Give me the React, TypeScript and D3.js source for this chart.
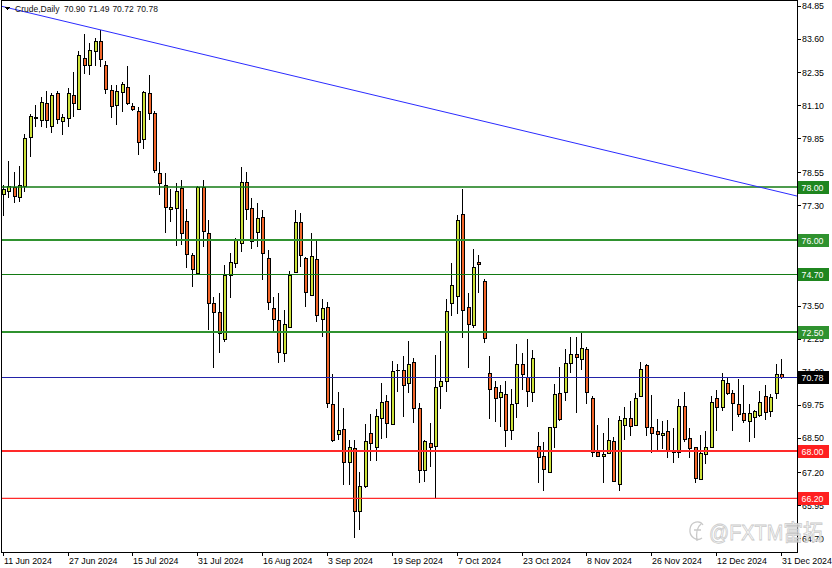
import React from 'react';
import * as d3 from 'd3';

// Crude, Daily — bars from 11 Jun 2024 to 31 Dec 2024
const opens = [
  77.73, 77.85, 78.01, 77.63, 78.04, 79.88, 80.65, 80.53, 81.16, 80.30,
  81.57, 80.49, 80.62, 81.47, 80.94, 82.87, 82.62, 83.16, 83.54, 82.60,
  81.66, 81.10, 81.58, 81.79, 81.06, 80.88, 79.80, 81.57, 80.79, 78.54,
  78.07, 77.15, 77.19, 77.97, 76.71, 75.42, 74.75, 77.98, 76.26, 73.59,
  73.27, 72.22, 74.66, 75.10, 75.86, 78.17, 77.19, 76.30, 76.85, 75.32,
  73.42, 72.96, 71.69, 72.70, 74.79, 76.68, 75.32, 73.90, 75.25, 72.98,
  73.44, 69.76, 68.63, 68.83, 67.57, 68.12, 65.71, 66.68, 68.66, 68.16,
  69.23, 69.89, 69.01, 71.05, 71.05, 70.58, 71.35, 69.61, 67.27, 68.29,
  68.19, 70.47, 70.65, 73.59, 73.88, 76.97, 73.44, 72.77, 75.15, 74.43,
  70.94, 70.41, 70.03, 70.14, 68.79, 69.80, 71.28, 70.81, 70.24, 68.19,
  67.80, 67.21, 68.89, 70.18, 70.22, 71.32, 71.67, 71.47, 71.86, 70.01,
  67.97, 67.82, 67.91, 68.37, 66.74, 68.98, 69.23, 68.98, 70.08, 71.25,
  68.89, 68.75, 68.60, 68.75, 68.01, 67.97, 69.70, 68.47, 68.13, 66.92,
  67.88, 68.13, 69.99, 69.67, 70.58, 70.20, 69.77, 69.44, 69.14, 69.27,
  69.36, 70.09, 69.51, 70.18, 70.90,
];
const highs = [
  78.07, 78.99, 78.55, 78.80, 80.00, 80.76, 81.10, 81.39, 81.64, 81.57,
  81.64, 80.76, 81.73, 82.34, 83.15, 83.79, 83.44, 83.63, 83.94, 82.78,
  81.86, 81.86, 81.98, 82.58, 81.16, 81.01, 81.63, 82.24, 80.87, 78.93,
  78.54, 77.91, 78.16, 78.26, 77.15, 75.48, 78.03, 78.26, 76.74, 73.84,
  73.97, 75.04, 75.48, 76.06, 78.74, 78.55, 77.57, 77.38, 77.12, 75.61,
  73.84, 73.97, 73.34, 74.81, 77.12, 77.00, 75.35, 76.26, 75.99, 73.74,
  73.65, 70.91, 70.24, 69.63, 68.41, 68.41, 67.21, 69.02, 69.40, 69.59,
  70.58, 70.12, 71.40, 71.28, 71.59, 72.16, 71.50, 69.82, 68.41, 69.07,
  71.63, 72.16, 73.75, 75.13, 76.93, 77.92, 73.97, 75.63, 75.42, 74.51,
  71.59, 70.65, 70.49, 70.65, 70.33, 72.05, 71.69, 72.22, 71.82, 68.72,
  68.35, 68.91, 70.53, 71.19, 71.85, 72.32, 72.32, 72.51, 71.92, 70.08,
  68.98, 68.69, 69.23, 68.51, 69.32, 69.67, 69.89, 70.18, 71.38, 71.29,
  70.12, 69.19, 69.13, 69.17, 68.85, 69.95, 70.24, 68.85, 68.16, 68.60,
  68.76, 70.08, 70.30, 70.96, 70.75, 70.30, 70.71, 70.49, 69.77, 69.55,
  70.28, 70.49, 70.14, 71.29, 71.49,
];
const lows = [
  76.90, 77.57, 77.38, 77.44, 77.80, 79.12, 80.26, 80.28, 80.22, 80.05,
  80.38, 79.96, 80.26, 80.66, 80.90, 82.27, 82.24, 82.58, 82.55, 81.52,
  80.62, 80.34, 80.85, 81.10, 80.88, 79.21, 79.42, 80.53, 78.51, 77.69,
  76.26, 76.68, 75.76, 75.80, 74.91, 74.22, 74.70, 75.71, 72.58, 71.13,
  71.69, 72.12, 73.78, 74.93, 75.54, 76.74, 75.63, 75.71, 74.47, 73.34,
  72.45, 71.32, 71.38, 72.65, 74.74, 74.95, 73.46, 73.86, 72.89, 72.32,
  69.61, 68.35, 68.41, 66.71, 66.71, 64.69, 65.00, 66.58, 67.63, 67.63,
  68.44, 68.50, 68.98, 70.24, 69.29, 70.20, 69.07, 66.79, 66.83, 67.40,
  66.16, 69.59, 70.24, 73.11, 73.17, 72.26, 71.13, 72.64, 73.97, 72.07,
  69.19, 69.10, 68.89, 68.13, 68.41, 69.23, 70.30, 69.65, 69.86, 66.77,
  66.49, 67.20, 68.10, 69.14, 69.90, 70.96, 69.44, 71.06, 69.77, 67.75,
  67.76, 66.77, 67.88, 66.86, 66.49, 68.41, 68.56, 68.94, 70.04, 68.56,
  67.91, 68.03, 68.06, 67.72, 67.53, 67.72, 68.35, 67.72, 66.77, 66.90,
  67.50, 68.11, 68.76, 69.52, 70.12, 68.76, 69.29, 69.04, 68.35, 68.47,
  69.27, 69.17, 69.27, 69.95, 70.72,
];
const closes = [
  77.92, 78.04, 77.65, 78.06, 79.84, 80.69, 80.60, 81.22, 80.53, 81.48,
  80.56, 80.66, 81.54, 81.16, 82.98, 82.60, 83.17, 83.54, 82.83, 81.69,
  81.06, 81.64, 81.88, 81.16, 80.94, 79.71, 81.58, 80.79, 78.64, 78.16,
  77.22, 77.22, 77.85, 76.26, 75.44, 74.88, 77.98, 76.34, 73.59, 73.27,
  72.45, 74.66, 75.16, 75.99, 78.19, 77.15, 75.96, 76.81, 75.48, 73.65,
  72.98, 71.76, 72.79, 74.66, 76.66, 75.42, 74.03, 75.38, 73.15, 73.40,
  69.82, 68.41, 68.79, 67.57, 68.13, 65.73, 66.68, 68.37, 68.29, 69.31,
  69.86, 69.07, 71.02, 71.05, 70.48, 71.29, 69.63, 67.27, 68.38, 68.13,
  70.41, 70.65, 73.30, 74.28, 76.74, 73.34, 72.79, 74.97, 75.07, 72.26,
  70.33, 69.99, 70.22, 68.79, 69.77, 71.29, 70.90, 70.28, 71.50, 67.78,
  67.30, 68.89, 70.14, 69.19, 71.32, 71.66, 71.57, 71.88, 70.22, 67.97,
  67.82, 67.89, 68.41, 66.87, 69.17, 69.23, 68.95, 69.99, 71.09, 68.91,
  68.69, 68.63, 68.69, 68.01, 67.96, 69.70, 68.44, 68.12, 66.96, 67.93,
  68.16, 69.86, 69.65, 70.68, 70.18, 69.80, 69.40, 69.17, 69.42, 69.52,
  69.86, 69.48, 70.03, 70.90, 70.78,
];

const dateLabels = [
  '11 Jun 2024', '27 Jun 2024', '15 Jul 2024', '31 Jul 2024', '16 Aug 2024',
  '3 Sep 2024', '19 Sep 2024', '7 Oct 2024', '23 Oct 2024', '8 Nov 2024',
  '26 Nov 2024', '12 Dec 2024', '31 Dec 2024',
];
const dateBars = [0, 12, 24, 36, 48, 60, 72, 84, 96, 108, 120, 132, 144];

const priceTicks = [
  84.85, 83.6, 82.35, 81.1, 79.85, 78.55, 77.3, 76.0, 74.7, 73.5,
  72.25, 71.0, 69.75, 68.5, 67.2, 65.95, 64.7,
];

const greenLevels = [78.0, 76.0, 74.7, 72.5];
const redLevels = [68.0, 66.2];
const bidPrice = 70.78;
const lastBar = ['70.90', '71.49', '70.72', '70.78'];

// trend line anchors: [bar, price]
const trendBars = [0.4, 147];
const trendPrices = [84.81, 77.65];

const BULL = '#cde23a';
const BEAR = '#f2662a';
const FONT = "'Liberation Sans', Arial, sans-serif";

export default function App() {
  const plotR = 797.5;
  const plotB = 552.5;

  const x = d3.scaleLinear().domain([0, 144]).range([2.7, 781]);
  const y = d3.scaleLinear().domain([85.077, 64.17]).range([0, 552]);

  const greenWidths = [1.5, 2, 1, 2];
  const redWidths = [2, 1.3];

  const candles = opens.map((o, i) => {
    const c = closes[i];
    const px = Math.round(x(i));
    const top = Math.round(y(Math.max(o, c)));
    const bot = Math.round(y(Math.min(o, c)));
    const up = c >= o;
    return (
      <g key={i}>
        <line
          x1={px + 0.5}
          x2={px + 0.5}
          y1={Math.round(y(highs[i]))}
          y2={Math.round(y(lows[i]))}
          stroke="#000"
          strokeWidth={1}
        />
        {bot - top >= 1 ? (
          <rect
            x={px - 1 + 0.5}
            y={top + 0.5}
            width={3}
            height={bot - top}
            fill={up ? BULL : BEAR}
            stroke="#000"
            strokeWidth={1}
          />
        ) : (
          <line x1={px - 1} x2={px + 3} y1={top + 0.5} y2={top + 0.5} stroke="#000" strokeWidth={1} />
        )}
      </g>
    );
  });

  const lineLabel = (p: number, bg: string, key: string) => (
    <g key={key}>
      <rect x={798} y={Math.round(y(p)) - 6} width={31} height={13} fill={bg} />
      <text x={801.5} y={Math.round(y(p)) + 0.5} dominantBaseline="central" fontSize={8.8} fill="#fff">
        {p.toFixed(2)}
      </text>
    </g>
  );

  const levelY = (p: number, w: number) => (w % 2 === 1 ? Math.round(y(p)) + 0.5 : Math.round(y(p)));

  return (
    <svg
      width={832}
      height={568}
      style={{ position: 'fixed', left: 0, top: 0 }}
      fontFamily={FONT}
      shapeRendering="crispEdges"
    >
      <rect x={0} y={0} width={832} height={568} fill="#fff" />
      <defs>
        <clipPath id="plotClip">
          <rect x={2} y={1} width={plotR - 2} height={plotB - 1} />
        </clipPath>
      </defs>

      <g clipPath="url(#plotClip)">
        {candles}

        {greenLevels.map((p, k) => (
          <line
            key={'g' + k}
            x1={0}
            x2={plotR}
            y1={levelY(p, greenWidths[k])}
            y2={levelY(p, greenWidths[k])}
            stroke={k % 2 ? '#2f922f' : '#137a13'}
            strokeWidth={greenWidths[k]}
            shapeRendering={greenWidths[k] % 1 ? 'auto' : 'crispEdges'}
          />
        ))}
        {redLevels.map((p, k) => (
          <line key={'r' + k} x1={0} x2={plotR} y1={y(p)} y2={y(p)} stroke="#ff2a2a" strokeWidth={redWidths[k]} shapeRendering="auto" />
        ))}
        <line x1={0} x2={plotR} y1={Math.round(y(bidPrice)) + 0.5} y2={Math.round(y(bidPrice)) + 0.5} stroke="#2323a8" strokeWidth={1} />

        <line
          x1={x(trendBars[0] - 5)}
          y1={y(trendPrices[0] + ((trendPrices[1] - trendPrices[0]) / (trendBars[1] - trendBars[0])) * -5)}
          x2={x(trendBars[1])}
          y2={y(trendPrices[1])}
          stroke="#2b2bff"
          strokeWidth={1}
          shapeRendering="auto"
        />
      </g>

      {/* frame */}
      <rect x={1.5} y={0.5} width={plotR - 1.5} height={plotB - 0.5} fill="none" stroke="#000" strokeWidth={1} />

      {/* price axis */}
      {priceTicks.map((p) => (
        <g key={'t' + p}>
          <line x1={plotR} x2={plotR + 3} y1={Math.round(y(p)) + 0.5} y2={Math.round(y(p)) + 0.5} stroke="#000" />
          <text x={802} y={y(p) + 0.5} dominantBaseline="central" fontSize={8.8} fill="#000">
            {p.toFixed(2)}
          </text>
        </g>
      ))}
      {greenLevels.map((p, k) => lineLabel(p, k % 2 ? '#2f922f' : '#1f861f', 'gl' + k))}
      {redLevels.map((p, k) => lineLabel(p, '#ff2020', 'rl' + k))}
      {lineLabel(bidPrice, '#000', 'bid')}

      {/* time axis */}
      {dateBars.map((b, k) => (
        <g key={'d' + b}>
          <line x1={Math.round(x(b)) + 0.5} x2={Math.round(x(b)) + 0.5} y1={plotB} y2={plotB + 3} stroke="#000" />
          <text x={Math.round(x(b)) + 1} y={563.5} fontSize={8.8} fill="#000">
            {dateLabels[k]}
          </text>
        </g>
      ))}

      {/* header */}
      <path d="M5,7 L10,7 L7.5,10 Z" fill="#000" />
      <text x={15} y={11.5} fontSize={8.5} fill="#111">Crude,Daily</text>
      {lastBar.map((v, k) => (
        <text key={'h' + k} x={64 + k * 24.2} y={11.5} fontSize={8.5} fill="#111">
          {v}
        </text>
      ))}

      {/* watermark */}
      <g opacity={0.9} shapeRendering="auto">
        <path
          d="M703,525 C700,520 691,521 690,529 C689,537 697,542 702,538 M697,541 C696,534 697,527 701,524 M694,530 L701,530"
          fill="none"
          stroke="#c4c4c4"
          strokeWidth={1.3}
        />
        <text
          x={709}
          y={540}
          fontSize={22}
          textLength={114}
          lengthAdjust="spacingAndGlyphs"
          fill="#fff"
          stroke="#c4c4c4"
          strokeWidth={0.8}
          fontFamily="'Liberation Sans', 'Noto Sans CJK SC', sans-serif"
        >
          @FXTM富拓
        </text>
      </g>
    </svg>
  );
}
